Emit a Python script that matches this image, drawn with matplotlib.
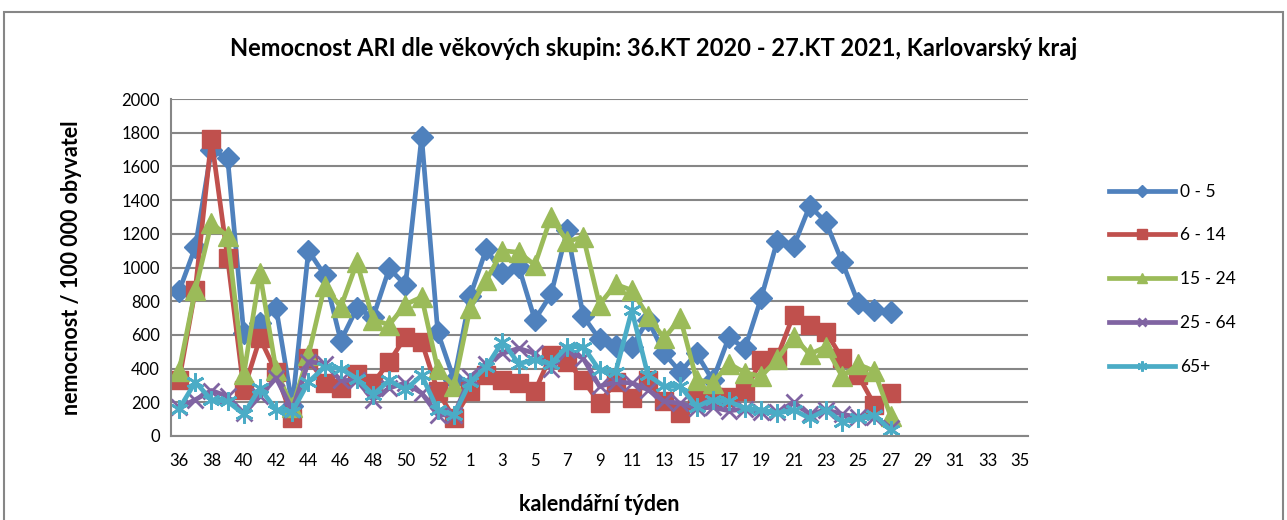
import numpy as np
import matplotlib
matplotlib.use('Agg')
import matplotlib.pyplot as plt
from matplotlib.patches import Rectangle

plt.rcParams['font.family'] = ['Lato', 'DejaVu Sans']

# calendar weeks 36/2020 .. 53/2020, 1/2021 .. 35/2021
weeks = list(range(36, 54)) + list(range(1, 36))

# values per 100 000, weeks 36/2020 .. 27/2021
age_0_5 = [860, 1120, 1700, 1650, 610, 670, 760, 180, 1100, 955, 565, 760, 705, 995, 895, 1775, 615, 335,
           830, 1110, 965, 1005, 690, 840, 1220, 710, 575, 535, 530, 690, 490, 380, 490, 330, 585, 520,
           820, 1160, 1125, 1365, 1270, 1035, 790, 750, 735]
age_6_14 = [330, 865, 1765, 1055, 275, 580, 380, 105, 460, 315, 285, 370, 315, 440, 590, 560, 265, 105,
            265, 360, 330, 315, 265, 480, 440, 330, 195, 320, 225, 330, 205, 135, 215, 230, 230, 265,
            450, 470, 720, 660, 620, 460, 360, 185, 255]
age_15_24 = [385, 865, 1265, 1185, 365, 965, 390, 170, 480, 890, 765, 1030, 690, 660, 780, 825, 395, 295,
             760, 925, 1100, 1090, 1015, 1300, 1155, 1180, 780, 900, 865, 710, 580, 700, 335, 315, 430, 375,
             355, 455, 590, 485, 530, 355, 425, 385, 120]
age_25_64 = [170, 215, 270, 235, 135, 235, 345, 155, 440, 430, 330, 330, 215, 285, 315, 255, 125, 125,
             350, 430, 490, 520, 490, 400, 510, 460, 295, 320, 315, 275, 205, 195, 165, 170, 150, 160,
             140, 140, 200, 130, 155, 130, 110, 110, 50]
age_65 = [160, 320, 215, 205, 130, 285, 155, 145, 320, 410, 400, 340, 245, 330, 275, 360, 155, 125,
          320, 410, 560, 430, 450, 430, 530, 530, 390, 380, 745, 360, 295, 295, 175, 215, 205, 165,
          155, 135, 155, 105, 155, 85, 105, 125, 35]

labels = ['0 - 5', '6 - 14', '15 - 24', '25 - 64', '65+']
series = [age_0_5, age_6_14, age_15_24, age_25_64, age_65]
colors = ['#4F81BD', '#C0504D', '#9BBB59', '#8064A2', '#4BACC6']
markers = ['D', 's', '^', 'x', (6, 2, 0)]
msizes = [11, 13.5, 14, 11, 13]

fig = plt.figure(figsize=(12.87, 5.2), dpi=100)
ax = fig.add_axes([171 / 1287, 84 / 520, 857 / 1287, 337 / 520])

for vals, lab, c, m, ms in zip(series, labels, colors, markers, msizes):
    ax.plot(range(len(vals)), vals, color=c, lw=3.4, marker=m, markersize=ms,
            markeredgewidth=2 if m in ('x', (6, 2, 0)) else 1, markeredgecolor=c,
            label=lab, solid_joinstyle='round')

ax.set_xlim(-0.5, len(weeks) - 0.5)
ax.set_ylim(0, 2000)
ax.set_yticks(range(0, 2001, 200))
ax.set_xticks(range(0, len(weeks), 2))
ax.set_xticklabels([str(weeks[i]) for i in range(0, len(weeks), 2)])
ax.tick_params(axis='both', length=0, labelsize=12, colors='black')
ax.tick_params(axis='x', pad=12)
ax.tick_params(axis='y', pad=8)
ax.grid(axis='y', color='#868686', lw=1.5)
ax.set_axisbelow(True)
for s in ['top', 'right']:
    ax.spines[s].set_visible(False)
for s in ['left', 'bottom']:
    ax.spines[s].set_color('#868686')
    ax.spines[s].set_linewidth(1.5)

ax.set_xlabel('kalendářní týden', fontsize=15.5, fontweight='bold', labelpad=18)
ax.set_ylabel('nemocnost / 100 000 obyvatel', fontsize=15.5, fontweight='bold', labelpad=28)
fig.text(0.5 * (222 + 1085) / 1287, 1 - 48 / 520,
         'Nemocnost ARI dle věkových skupin: 36.KT 2020 - 27.KT 2021, Karlovarský kraj',
         ha='center', va='center', fontsize=17, fontweight='bold')

leg = fig.legend(loc='upper left', bbox_to_anchor=(1093 / 1287, 1 - 168 / 520), frameon=False,
                 fontsize=12.5, handlelength=3.8, labelspacing=1.6, handletextpad=0.3, markerscale=0.55)

fig.patches.append(Rectangle((4 / 1287, -0.1), 1279 / 1287, 1.1 - 12 / 520, transform=fig.transFigure,
                             fill=False, edgecolor='#868686', lw=1.5))

fig.savefig('out.png', dpi=100)
